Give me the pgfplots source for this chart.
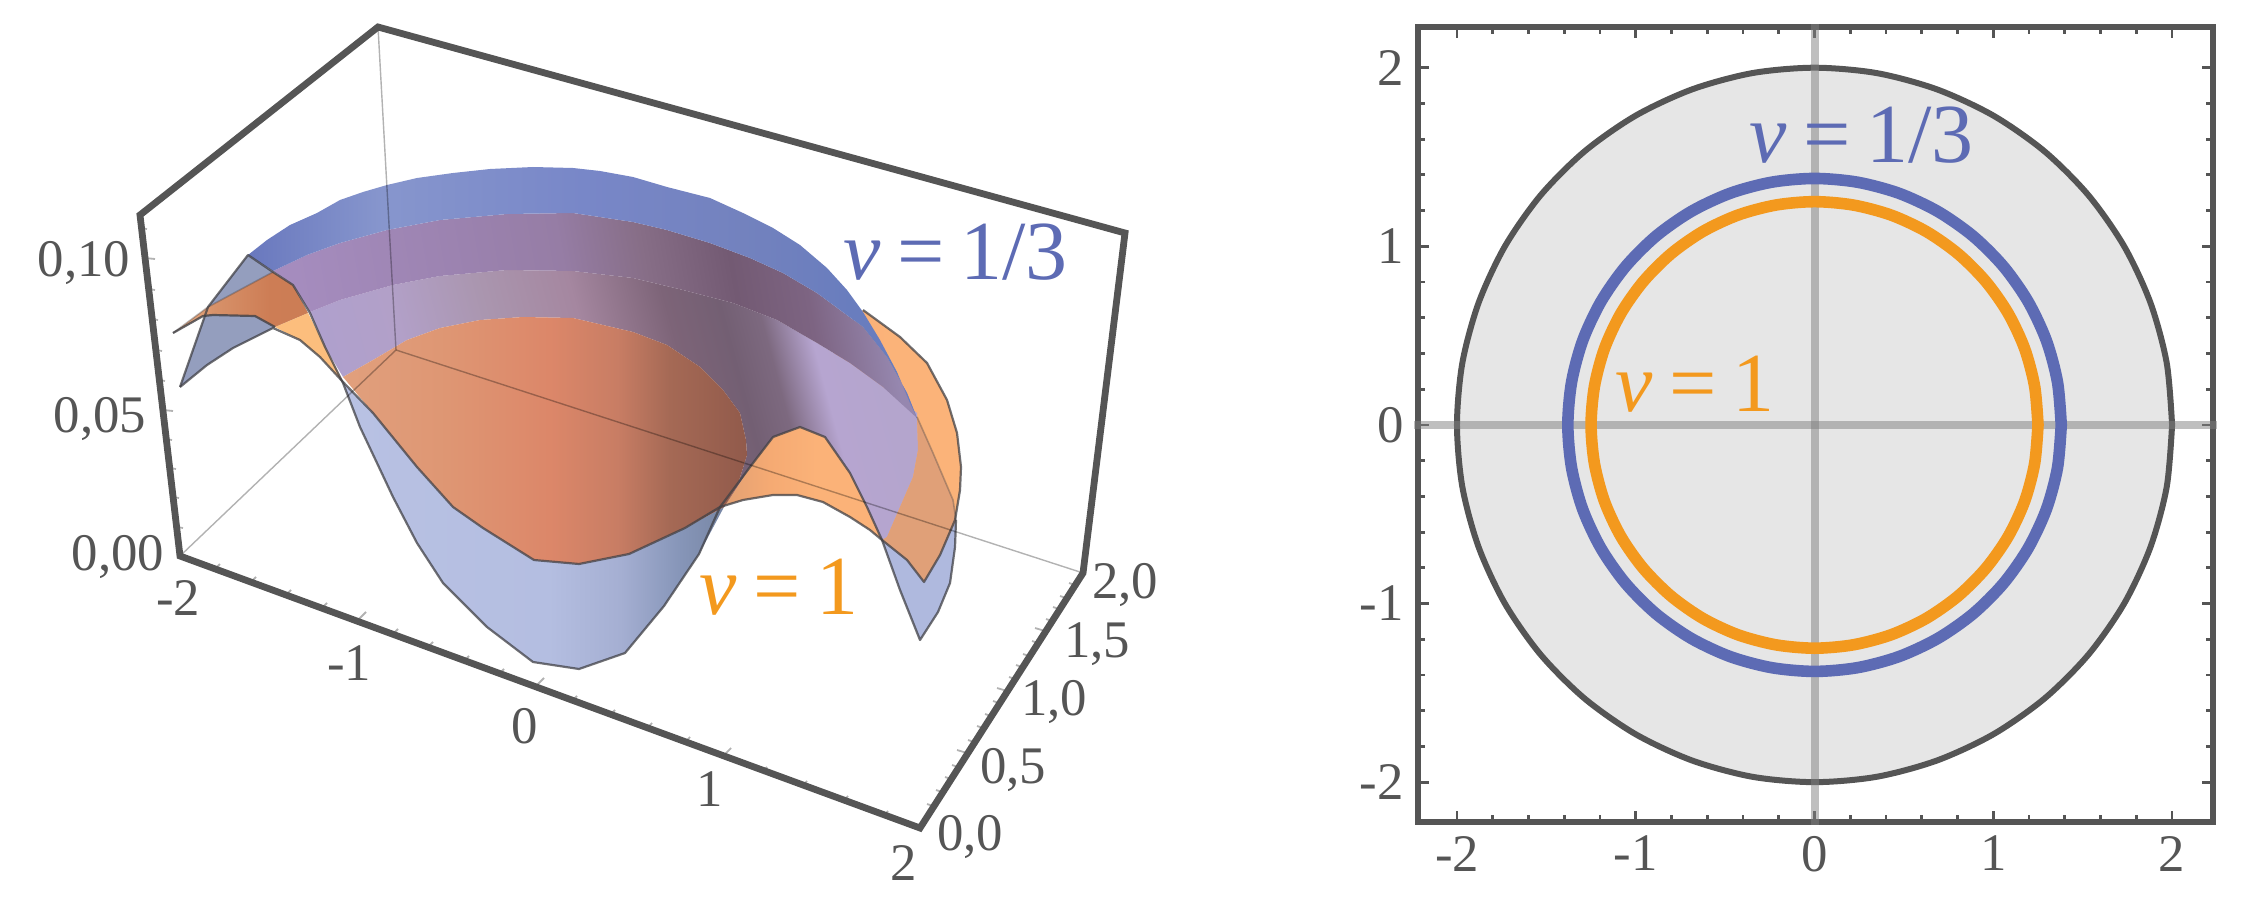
\documentclass[border=0pt]{standalone}
\usepackage{fontspec}
\setmainfont{Liberation Serif}
\usepackage{pgfplots}
\pgfplotsset{compat=1.18}

\definecolor{framecol}{RGB}{85,85,85}
\definecolor{bluelab}{RGB}{93,107,180}
\definecolor{orangelab}{RGB}{243,153,30}
\definecolor{diskcol}{RGB}{230,230,230}
\definecolor{edgecol}{RGB}{65,65,70}
\definecolor{tailblue}{RGB}{175,185,222}
\definecolor{wingblue}{RGB}{148,158,190}
\definecolor{brightor}{RGB}{252,190,125}
\definecolor{rightor}{RGB}{224,160,120}

% shadings: the middle 50bp is stretched over the shape's width
\pgfdeclarehorizontalshading{lilac}{100bp}{rgb(0bp)=(.686,.627,.804); rgb(25bp)=(.686,.627,.804); rgb(32.4bp)=(.698,.627,.784); rgb(40.6bp)=(.667,.588,.686); rgb(48.9bp)=(.647,.529,.627); rgb(57.1bp)=(.49,.392,.47); rgb(62bp)=(.451,.373,.451); rgb(65.4bp)=(.49,.412,.5); rgb(69.5bp)=(.714,.647,.816); rgb(75bp)=(.706,.647,.804); rgb(100bp)=(.706,.647,.804)}
\pgfdeclarehorizontalshading{band}{100bp}{rgb(0bp)=(.647,.549,.745); rgb(25bp)=(.647,.549,.745); rgb(40bp)=(.608,.51,.686); rgb(48bp)=(.588,.49,.647); rgb(55bp)=(.529,.431,.529); rgb(62.4bp)=(.451,.353,.451); rgb(68.5bp)=(.49,.392,.51); rgb(75bp)=(.588,.53,.686); rgb(100bp)=(.588,.53,.686)}
\pgfdeclarehorizontalshading{topblue}{100bp}{rgb(0bp)=(.412,.471,.745); rgb(25bp)=(.412,.471,.745); rgb(35bp)=(.529,.588,.804); rgb(50bp)=(.471,.529,.784); rgb(62bp)=(.451,.51,.745); rgb(70bp)=(.412,.49,.745); rgb(100bp)=(.412,.49,.745)}
\pgfdeclarehorizontalshading{centre}{100bp}{rgb(0bp)=(.882,.627,.49); rgb(25bp)=(.882,.627,.49); rgb(38bp)=(.871,.588,.451); rgb(50.6bp)=(.863,.529,.412); rgb(59bp)=(.784,.49,.392); rgb(65.4bp)=(.647,.412,.333); rgb(75bp)=(.569,.353,.294); rgb(100bp)=(.569,.353,.294)}
\pgfdeclarehorizontalshading{bowl}{100bp}{rgb(0bp)=(.722,.757,.89); rgb(25bp)=(.722,.757,.89); rgb(52bp)=(.706,.745,.882); rgb(61.4bp)=(.647,.686,.824); rgb(69bp)=(.529,.588,.725); rgb(75bp)=(.471,.529,.647); rgb(100bp)=(.471,.529,.647)}
\pgfdeclarehorizontalshading{rightarc}{100bp}{rgb(0bp)=(.882,.627,.451); rgb(25bp)=(.882,.627,.451); rgb(35.4bp)=(.961,.667,.451); rgb(45bp)=(.984,.698,.471); rgb(100bp)=(.984,.706,.478)}
\pgfdeclarehorizontalshading{wing}{100bp}{rgb(0bp)=(.922,.706,.549); rgb(25bp)=(.922,.706,.549); rgb(40.5bp)=(.843,.569,.412); rgb(61bp)=(.804,.49,.333); rgb(100bp)=(.784,.49,.333)}

\newcommand{\tl}[1]{\fontsize{13.2}{15}\selectfont\textcolor{framecol}{#1}}
\newcommand{\bl}[2]{\fontsize{21}{23}\selectfont\textcolor{#1}{\textit{v}\hspace{.19em}=\hspace{.19em}#2}}

\begin{document}
\begin{tikzpicture}
\path[use as bounding box] (0,0) rectangle (561.5pt,227.25pt);

% left panel: the perspective box has no linear axes, so its surfaces, edges
% and ticks are kept as projected coordinates, in pixels of the reference
\begin{axis}[
    at={(0,0)}, anchor=south west,
    scale only axis, width=561.5pt, height=227.25pt,
    xmin=0, xmax=2246, ymin=0, ymax=909, y dir=reverse,
    hide axis, clip=false, unbounded coords=jump,
]
% orange surface, right part
\addplot[draw=none, shade, shading=rightarc] coordinates {
(863,310)(900,337)(927,363)(947,400)(957,433)(961,467)(960,490)(955,520)(940,555)(924,582)
(907,560)(882,540)(870,530)(850,517)(823,502)(797,495)(773,495)(743,500)(720,507)(800,400)} -- cycle;
% blue surface, front bowl
\addplot[draw=none, shade, shading=bowl] coordinates {
(343,383)(360,427)(377,463)(393,497)(417,543)(443,583)(467,607)(487,627)(533,662)(579,669)
(625,653)(664,606)(699,554)(724,507)(685,528)(629,554)(579,564)(534,560)(483,528)(453,507)(417,467)(373,413)} -- cycle;
% blue tail on the right
\addplot[draw=none, fill=tailblue] coordinates {
(882,540)(900,590)(920,640)(938,612)(950,583)(955,547)(956,520)(940,555)(924,582)(907,560)} -- cycle;
% blue wing on the left
\addplot[draw=none, fill=wingblue] coordinates {
(180,387)(207,365)(233,348)(273,328)(308,313)(293,285)(273,272)(248,255)(208,307)} -- cycle;
% inner dish, lilac
\addplot[draw=none, shade, shading=lilac, shading angle=15] coordinates {
(310,312)(340,300)(393,285)(440,276)(507,270)(573,271)(633,278)(683,290)(733,303)(777,320)(817,343)(850,363)(883,387)(917,413)
(918,450)(913,477)(887,537)(882,540)
(867,507)(850,473)(825,437)(800,427)(773,437)(750,467)(724,507)(738,484)(747,455)(746,440)(740,413)(723,390)(700,367)(667,345)(633,332)
(573,318)(523,317)(480,320)(440,328)(407,340)(373,360)(343,377)(325,347)} -- cycle;
% darker band
\addplot[draw=none, shade, shading=band, shading angle=10] coordinates {
(273,271)(307,255)(340,243)(387,230)(440,220)(507,214)(573,213)(633,222)(667,230)(710,243)(750,258)(783,273)(817,293)(840,310)(863,327)(887,357)(907,393)(917,418)
(883,387)(850,363)(817,343)(777,320)(733,303)(683,290)(633,278)(573,271)(507,270)(440,276)(393,285)(340,300)(310,312)(293,285)} -- cycle;
% top of the blue ring
\addplot[draw=none, shade, shading=topblue] coordinates {
(248,255)(267,240)(290,225)(317,213)(340,200)(363,192)(387,185)(417,178)(453,173)(490,169)(533,167)(573,168)(600,171)(633,177)(667,187)(710,198)(743,213)(773,228)(800,245)(827,268)(847,290)(863,312)
(880,340)(897,372)(910,403)(917,418)(907,393)(887,357)(863,327)(840,310)(817,293)(783,273)(750,258)(710,243)(667,230)(633,222)(573,213)(507,214)(440,220)(387,230)(340,243)(307,255)(273,271)} -- cycle;
% orange centre
\addplot[draw=none, shade, shading=centre] coordinates {
(343,377)(373,360)(407,340)(440,328)(480,320)(523,317)(573,318)(633,332)(667,345)(700,367)(723,390)(740,413)(746,440)(747,455)(738,484)(724,507)
(685,528)(629,554)(579,564)(534,560)(483,528)(453,507)(417,467)(373,413)} -- cycle;
% orange seen through the blue rim
\addplot[draw=none, fill=rightor] coordinates {
(917,417)(933,453)(953,500)(956,520)(940,555)(924,582)(907,560)(882,540)(887,537)(913,477)(918,450)} -- cycle;
% orange wing
\addplot[draw=none, shade, shading=wing] coordinates {
(173,333)(208,307)(273,272)(293,285)(308,313)(275,327)(255,316)(213,315)(203,316)} -- cycle;
\addplot[draw=none, fill=brightor] coordinates {
(275,327)(308,313)(343,382)(320,357)(300,340)} -- cycle;

% surface outlines
\addplot[edgecol, opacity=.75, line width=.55pt, line join=round] coordinates {
(180,387)(207,365)(233,348)(273,328)(300,340)(320,357)(343,382)};
\addplot[edgecol, opacity=.75, line width=.55pt, line join=round] coordinates {
(180,387)(208,307)(248,255)(273,272)(293,285)(310,313)(325,347)(343,383)(360,427)(377,463)(393,497)(417,543)(443,583)
(467,607)(487,627)(533,662)(579,669)(625,653)(664,606)(699,554)(720,507)(750,467)(773,437)(800,427)(825,437)(850,473)
(867,507)(882,540)(900,590)(920,640)(938,612)(950,583)(955,547)(956,520)};
\addplot[edgecol, opacity=.8, line width=.55pt, line join=round] coordinates {
(173,333)(203,316)(213,315)(255,316)(275,327)};
\addplot[edgecol, opacity=.75, line width=.55pt, line join=round] coordinates {
(343,382)(373,413)(417,467)(453,507)(483,528)(534,560)(579,564)(629,554)(685,528)(720,507)(743,500)(773,495)(797,495)
(823,502)(850,517)(870,530)(882,540)(907,560)(924,582)(940,555)(955,520)(960,490)(961,467)(957,433)(947,400)(927,363)(900,337)(863,310)};
\addplot[edgecol, opacity=.35, line width=.4pt] coordinates {(173,333)(208,307)(273,272)};
\addplot[edgecol, opacity=.35, line width=.4pt] coordinates {(917,417)(933,453)(953,500)(956,520)};

% back edges of the box
\addplot[black, opacity=.3, line width=.35pt] coordinates {(378,27)(396,350)};
\addplot[black, opacity=.3, line width=.35pt] coordinates {(180,556)(396,350)};
\addplot[black, opacity=.3, line width=.35pt] coordinates {(396,350)(1083,573)};

% ticks: x edge, y edge, z edge
\addplot[black!30, line width=.45pt] coordinates {
(215,569)(220,564) (nan,nan) (251,582)(256,577) (nan,nan) (286,595)(291,590) (nan,nan) (322,608)(327,603) (nan,nan)
(357,621)(366,612) (nan,nan) (393,634)(398,629) (nan,nan) (428,647)(433,642) (nan,nan) (464,661)(469,656) (nan,nan) (499,674)(504,669) (nan,nan)
(535,687)(544,678) (nan,nan) (572,701)(577,696) (nan,nan) (610,715)(615,710) (nan,nan) (647,728)(652,723) (nan,nan) (685,742)(690,737) (nan,nan)
(722,757)(731,748) (nan,nan) (762,772)(767,767) (nan,nan) (802,786)(807,781) (nan,nan) (843,801)(848,796) (nan,nan) (883,816)(888,811)};
\addplot[black!30, line width=.45pt] coordinates {
(933,806)(927,804) (nan,nan) (942,792)(936,790) (nan,nan) (951,779)(945,777) (nan,nan) (958,767)(952,765) (nan,nan)
(967,753)(957,750) (nan,nan) (974,742)(968,740) (nan,nan) (983,728)(977,726) (nan,nan) (991,716)(985,714) (nan,nan) (999,703)(993,701) (nan,nan)
(1007,691)(997,688) (nan,nan) (1015,679)(1009,677) (nan,nan) (1022,667)(1016,665) (nan,nan) (1029,656)(1023,654) (nan,nan) (1038,643)(1032,641) (nan,nan)
(1045,631)(1035,628) (nan,nan) (1052,621)(1046,619) (nan,nan) (1059,609)(1053,607) (nan,nan) (1066,598)(1060,596) (nan,nan) (1075,585)(1069,583)};
\addplot[black!30, line width=.45pt] coordinates {
(177,527)(183,528) (nan,nan) (173,497)(179,498) (nan,nan) (170,468)(176,469) (nan,nan) (166,439)(172,440) (nan,nan)
(163,410)(173,411) (nan,nan) (159,380)(165,381) (nan,nan) (156,350)(162,351) (nan,nan) (152,319)(158,320) (nan,nan) (149,289)(155,290) (nan,nan)
(145,258)(155,259) (nan,nan) (141,228)(147,229)};

% the thick frame
\addplot[framecol, line width=1.7pt, line join=miter] coordinates {
(140,215)(378,27)(1125,233)(1083,573)(920,828)(180,556)} -- cycle;

\node[anchor=base] at (axis cs:84,276) {\tl{0,10}};
\node[anchor=base] at (axis cs:100,432) {\tl{0,05}};
\node[anchor=base] at (axis cs:118,570) {\tl{0,00}};
\node[anchor=base] at (axis cs:178,615) {\tl{-2}};
\node[anchor=base] at (axis cs:349,680) {\tl{-1}};
\node[anchor=base] at (axis cs:525,743) {\tl{0}};
\node[anchor=base] at (axis cs:710,806) {\tl{1}};
\node[anchor=base] at (axis cs:904,880) {\tl{2}};
\node[anchor=base] at (axis cs:970,850) {\tl{0,0}};
\node[anchor=base] at (axis cs:1013,783) {\tl{0,5}};
\node[anchor=base] at (axis cs:1054,715) {\tl{1,0}};
\node[anchor=base] at (axis cs:1097,657) {\tl{1,5}};
\node[anchor=base] at (axis cs:1125,598) {\tl{2,0}};
\node[anchor=base west, inner sep=0pt] at (axis cs:843,280) {\bl{bluelab}{1/3}};
\node[anchor=base west, inner sep=0pt] at (axis cs:699,614) {\bl{orangelab}{1}};
\end{axis}

% right panel
\begin{axis}[
    at={(354.5pt,21.75pt)}, anchor=south west,
    scale only axis, width=198.75pt, height=198.75pt,
    xmin=-2.218, xmax=2.229, ymin=-2.223, ymax=2.228,
    xtick={-2,-1,0,1,2}, xticklabels={-2,-1,0,1,2},
    ytick={-2,-1,0,1,2}, yticklabels={-2,-1,0,1,2},
    minor x tick num=4, minor y tick num=4,
    tick align=inside, major tick length=2.7pt, minor tick length=1.7pt,
    tick style={color=framecol, line width=.7pt},
    axis line style={color=framecol, line width=1.4pt},
    tick label style={font=\fontsize{13.2}{15}\selectfont, text=framecol},
    clip=false,
]
\addplot[draw=framecol, fill=diskcol, line width=1.5pt, smooth] coordinates {
(2.000,0)(1.970,0.347)(1.879,0.684)(1.732,1.000)(1.532,1.286)(1.286,1.532)(1.000,1.732)(0.684,1.879)(0.347,1.970)
(0,2.000)(-0.347,1.970)(-0.684,1.879)(-1.000,1.732)(-1.286,1.532)(-1.532,1.286)(-1.732,1.000)(-1.879,0.684)(-1.970,0.347)
(-2.000,0)(-1.970,-0.347)(-1.879,-0.684)(-1.732,-1.000)(-1.532,-1.286)(-1.286,-1.532)(-1.000,-1.732)(-0.684,-1.879)(-0.347,-1.970)
(0,-2.000)(0.347,-1.970)(0.684,-1.879)(1.000,-1.732)(1.286,-1.532)(1.532,-1.286)(1.732,-1.000)(1.879,-0.684)(1.970,-0.347)(2.000,0)} -- cycle;
\addplot[gray, opacity=.5, line width=2pt] coordinates {(-2.24,0)(2.25,0)};
\addplot[gray, opacity=.5, line width=2pt] coordinates {(0,-2.24)(0,2.245)};
\addplot[bluelab, line width=2.9pt, smooth] coordinates {
(1.380,0)(1.359,0.240)(1.297,0.472)(1.195,0.690)(1.057,0.887)(0.887,1.057)(0.690,1.195)(0.472,1.297)(0.240,1.359)
(0,1.380)(-0.240,1.359)(-0.472,1.297)(-0.690,1.195)(-0.887,1.057)(-1.057,0.887)(-1.195,0.690)(-1.297,0.472)(-1.359,0.240)
(-1.380,0)(-1.359,-0.240)(-1.297,-0.472)(-1.195,-0.690)(-1.057,-0.887)(-0.887,-1.057)(-0.690,-1.195)(-0.472,-1.297)(-0.240,-1.359)
(0,-1.380)(0.240,-1.359)(0.472,-1.297)(0.690,-1.195)(0.887,-1.057)(1.057,-0.887)(1.195,-0.690)(1.297,-0.472)(1.359,-0.240)(1.380,0)} -- cycle;
\addplot[orangelab, line width=2.9pt, smooth] coordinates {
(1.250,0)(1.231,0.217)(1.175,0.428)(1.083,0.625)(0.958,0.803)(0.803,0.958)(0.625,1.083)(0.428,1.175)(0.217,1.231)
(0,1.250)(-0.217,1.231)(-0.428,1.175)(-0.625,1.083)(-0.803,0.958)(-0.958,0.803)(-1.083,0.625)(-1.175,0.428)(-1.231,0.217)
(-1.250,0)(-1.231,-0.217)(-1.175,-0.428)(-1.083,-0.625)(-0.958,-0.803)(-0.803,-0.958)(-0.625,-1.083)(-0.428,-1.175)(-0.217,-1.231)
(0,-1.250)(0.217,-1.231)(0.428,-1.175)(0.625,-1.083)(0.803,-0.958)(0.958,-0.803)(1.083,-0.625)(1.175,-0.428)(1.231,-0.217)(1.250,0)} -- cycle;
\node[anchor=base west, inner sep=0pt] at (axis cs:-0.366,1.467) {\bl{bluelab}{1/3}};
\node[anchor=base west, inner sep=0pt] at (axis cs:-1.116,0.078) {\bl{orangelab}{1}};
\end{axis}
\end{tikzpicture}
\end{document}
